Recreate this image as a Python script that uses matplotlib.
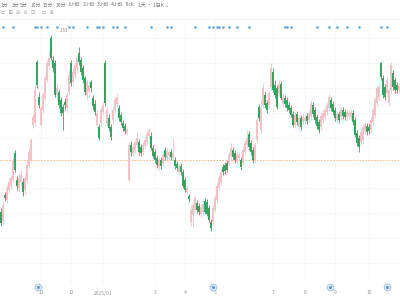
import matplotlib
matplotlib.use("Agg")
import matplotlib.pyplot as plt
import numpy as np

plt.rcParams["font.family"] = ["Noto Sans CJK SC", "DejaVu Sans"]

# daily candles, one per trading day
opens = [
    1.76, 1.66, 1.93, 1.88, 1.98, 2.02, 2.08, 2.35, 2.08, 2.00,
    2.06, 2.06, 1.98, 2.08, 2.22, 2.28, 2.63, 2.65, 3.26, 2.91,
    2.63, 2.78, 2.90, 3.08, 3.22, 3.50, 3.28, 3.25, 2.93, 2.96,
    2.88, 2.81, 2.86, 2.80, 2.96, 3.25, 3.06, 3.13, 3.20, 3.35,
    3.28, 3.20, 3.10, 2.93, 2.96, 3.06, 2.90, 2.84, 2.63, 2.61,
    2.65, 2.76, 3.25, 2.65, 2.70, 2.61, 2.68, 2.78, 2.84, 2.80,
    2.73, 2.65, 2.62, 2.55, 2.08, 2.43, 2.35, 2.38, 2.43, 2.46,
    2.41, 2.36, 2.42, 2.46, 2.52, 2.52, 2.40, 2.36, 2.30, 2.21,
    2.28, 2.25, 2.38, 2.30, 2.32, 2.36, 2.30, 2.28, 2.24, 2.16,
    2.22, 2.16, 2.08, 1.96, 1.92, 1.66, 1.73, 1.78, 1.85, 1.82,
    1.74, 1.76, 1.87, 1.86, 1.80, 1.66, 1.66, 1.78, 1.88, 2.00,
    2.06, 2.21, 2.23, 2.25, 2.25, 2.32, 2.38, 2.35, 2.26, 2.30,
    2.28, 2.25, 2.36, 2.43, 2.54, 2.45, 2.38, 2.28, 2.48, 2.81,
    2.58, 2.83, 2.93, 2.85, 2.83, 3.01, 3.16, 3.03, 3.00, 2.95,
    3.04, 2.84, 2.90, 2.88, 2.83, 2.80, 2.74, 2.63, 2.74, 2.61,
    2.70, 2.66, 2.67, 2.72, 2.68, 2.71, 2.83, 2.78, 2.71, 2.66,
    2.61, 2.68, 2.71, 2.76, 2.80, 2.88, 2.84, 2.78, 2.68, 2.74,
    2.71, 2.78, 2.76, 2.71, 2.72, 2.71, 2.75, 2.68, 2.55, 2.50,
    2.46, 2.48, 2.57, 2.62, 2.61, 2.58, 2.66, 2.73, 2.85, 2.90,
    3.25, 3.10, 3.01, 2.95, 2.85, 2.98, 3.15, 3.08, 3.03, 2.98,
]
closes = [
    1.65, 1.83, 1.90, 2.00, 2.06, 2.10, 2.28, 2.18, 2.02, 2.10,
    2.13, 1.96, 2.10, 2.23, 2.36, 2.48, 2.71, 2.98, 3.03, 2.83,
    2.80, 2.93, 3.10, 3.25, 3.30, 3.30, 3.20, 2.93, 3.00, 2.83,
    2.75, 2.75, 2.83, 2.93, 3.13, 3.05, 3.16, 3.23, 3.30, 3.26,
    3.16, 3.08, 2.96, 3.06, 3.03, 3.00, 2.82, 2.76, 2.75, 2.50,
    2.78, 2.83, 2.85, 2.78, 2.60, 2.51, 2.78, 2.88, 2.91, 2.70,
    2.66, 2.60, 2.57, 2.58, 2.43, 2.36, 2.41, 2.45, 2.50, 2.36,
    2.35, 2.43, 2.48, 2.54, 2.58, 2.40, 2.32, 2.28, 2.23, 2.28,
    2.22, 2.33, 2.31, 2.37, 2.36, 2.31, 2.35, 2.22, 2.20, 2.22,
    2.16, 2.02, 1.98, 2.00, 1.89, 1.78, 1.83, 1.90, 1.78, 1.76,
    1.81, 1.84, 1.76, 1.74, 1.68, 1.60, 1.80, 1.90, 2.02, 2.10,
    2.16, 2.16, 2.17, 2.18, 2.33, 2.40, 2.31, 2.28, 2.34, 2.33,
    2.21, 2.38, 2.45, 2.50, 2.41, 2.36, 2.28, 2.43, 2.68, 2.70,
    2.80, 3.00, 2.83, 2.78, 2.95, 3.20, 2.98, 2.93, 2.81, 3.04,
    2.90, 2.91, 2.84, 2.80, 2.78, 2.73, 2.63, 2.73, 2.66, 2.70,
    2.61, 2.71, 2.70, 2.67, 2.75, 2.85, 2.74, 2.68, 2.62, 2.58,
    2.72, 2.75, 2.78, 2.83, 2.91, 2.80, 2.76, 2.70, 2.74, 2.68,
    2.78, 2.72, 2.71, 2.76, 2.75, 2.76, 2.66, 2.53, 2.45, 2.41,
    2.56, 2.61, 2.63, 2.56, 2.57, 2.68, 2.78, 2.88, 3.00, 3.01,
    3.11, 2.93, 2.91, 3.08, 2.98, 3.23, 3.01, 2.98, 2.98, 3.02,
]
highs = [
    1.80, 1.86, 1.96, 2.03, 2.10, 2.13, 2.31, 2.38, 2.12, 2.14,
    2.18, 2.10, 2.14, 2.28, 2.40, 2.50, 2.74, 3.04, 3.28, 2.96,
    2.83, 2.96, 3.13, 3.28, 3.38, 3.53, 3.32, 3.28, 3.04, 2.98,
    2.91, 2.84, 2.90, 2.96, 3.18, 3.28, 3.20, 3.26, 3.33, 3.41,
    3.31, 3.23, 3.12, 3.08, 3.06, 3.08, 2.93, 2.88, 2.78, 2.64,
    2.81, 2.86, 3.28, 2.81, 2.74, 2.64, 2.81, 2.91, 2.95, 2.83,
    2.76, 2.68, 2.65, 2.60, 2.46, 2.47, 2.44, 2.48, 2.56, 2.49,
    2.44, 2.46, 2.51, 2.57, 2.60, 2.56, 2.43, 2.39, 2.33, 2.31,
    2.31, 2.36, 2.41, 2.40, 2.39, 2.39, 2.50, 2.31, 2.27, 2.25,
    2.25, 2.19, 2.11, 2.03, 1.94, 1.83, 1.86, 1.93, 1.88, 1.85,
    1.84, 1.88, 1.90, 1.89, 1.83, 1.69, 1.83, 1.93, 2.05, 2.13,
    2.19, 2.24, 2.26, 2.28, 2.36, 2.45, 2.41, 2.38, 2.37, 2.36,
    2.31, 2.41, 2.48, 2.58, 2.57, 2.48, 2.41, 2.46, 2.71, 2.84,
    2.88, 3.05, 2.96, 2.88, 2.98, 3.25, 3.20, 3.08, 3.03, 3.08,
    3.07, 2.94, 2.93, 2.91, 2.86, 2.83, 2.77, 2.76, 2.77, 2.73,
    2.73, 2.74, 2.73, 2.75, 2.78, 2.88, 2.86, 2.81, 2.74, 2.69,
    2.75, 2.78, 2.81, 2.86, 2.94, 2.91, 2.87, 2.81, 2.77, 2.77,
    2.81, 2.81, 2.79, 2.79, 2.78, 2.79, 2.78, 2.71, 2.58, 2.53,
    2.59, 2.64, 2.66, 2.65, 2.64, 2.71, 2.81, 2.91, 3.03, 3.04,
    3.26, 3.13, 3.04, 3.11, 3.01, 3.26, 3.18, 3.11, 3.06, 3.05,
]
lows = [
    1.62, 1.64, 1.87, 1.85, 1.95, 1.98, 2.06, 2.16, 1.98, 1.96,
    2.02, 1.92, 1.94, 2.05, 2.20, 2.26, 2.60, 2.62, 3.00, 2.80,
    2.60, 2.75, 2.88, 3.06, 3.18, 3.28, 3.16, 2.91, 2.88, 2.80,
    2.72, 2.58, 2.78, 2.76, 2.93, 3.02, 3.03, 3.10, 3.16, 3.23,
    3.13, 3.05, 2.93, 2.88, 2.90, 2.96, 2.78, 2.73, 2.60, 2.48,
    2.62, 2.73, 2.82, 2.62, 2.57, 2.48, 2.64, 2.75, 2.81, 2.67,
    2.63, 2.57, 2.54, 2.53, 2.06, 2.32, 2.32, 2.35, 2.40, 2.33,
    2.32, 2.33, 2.39, 2.43, 2.49, 2.38, 2.30, 2.25, 2.20, 2.18,
    2.19, 2.22, 2.28, 2.27, 2.29, 2.28, 2.28, 2.19, 2.17, 2.13,
    2.13, 2.00, 1.96, 1.94, 1.86, 1.62, 1.61, 1.75, 1.75, 1.73,
    1.71, 1.73, 1.74, 1.72, 1.66, 1.57, 1.63, 1.76, 1.85, 1.98,
    2.03, 2.13, 2.14, 2.16, 2.22, 2.29, 2.28, 2.25, 2.23, 2.27,
    2.18, 2.22, 2.33, 2.40, 2.38, 2.33, 2.25, 2.25, 2.45, 2.67,
    2.55, 2.80, 2.80, 2.75, 2.80, 2.98, 2.96, 2.90, 2.79, 2.92,
    2.88, 2.81, 2.81, 2.77, 2.75, 2.71, 2.61, 2.60, 2.63, 2.58,
    2.58, 2.63, 2.64, 2.64, 2.65, 2.68, 2.71, 2.65, 2.59, 2.55,
    2.58, 2.65, 2.68, 2.73, 2.77, 2.77, 2.73, 2.67, 2.65, 2.65,
    2.68, 2.69, 2.68, 2.68, 2.69, 2.68, 2.63, 2.51, 2.42, 2.36,
    2.43, 2.45, 2.54, 2.53, 2.54, 2.55, 2.63, 2.70, 2.82, 2.87,
    3.08, 2.90, 2.88, 2.92, 2.82, 2.95, 2.98, 2.95, 2.95, 2.95,
]

month_idx = [20, 35, 51, 77, 92, 107, 136, 152, 167, 184]
month_labels = ["11", "12", "2025/01", "3", "4", "5", "7", "8", "9", "10"]

event_idx = [1, 6, 17, 18, 20, 23, 28, 34, 36, 43, 48, 49, 51, 56, 58, 62,
             75, 83, 85, 97, 104, 106, 108, 109, 111, 114, 118, 124, 142,
             143, 145, 158, 164, 168, 173, 179, 190, 193]
news_idx = [18.5, 106, 164.5, 193]

ref_price = 2.28
max_label = "3.53"

toolbar = ["1分", "3分", "5分", "10分", "15分", "30分", "1小时", "2小时",
           "3小时", "4小时", "Tick", "1天 · 1日K ⌄"]
toolbar_x = [1, 12, 20, 31, 43, 56, 68, 83, 97, 111, 125, 138]

UP = "#f3c2c9"
DOWN = "#34a463"

fig = plt.figure(figsize=(4, 3), dpi=100)
ax = fig.add_axes([0, 17 / 300, 1, 263 / 300])
ax.set_xlim(-0.5, len(opens) - 0.5)
ax.set_ylim(1.05, 3.68)

x = np.arange(len(opens))
o = np.array(opens)
c = np.array(closes)
up = c >= o
colors = np.where(up, UP, DOWN)

ax.vlines(x, lows, highs, colors=colors, linewidth=0.6, zorder=3)
ax.bar(x, np.maximum(np.abs(c - o), 0.008), bottom=np.minimum(o, c),
       width=0.75, color=colors, linewidth=0, zorder=4)

ax.axhline(ref_price, color="#f3b27a", linewidth=0.6, linestyle=(0, (2, 1.5)), zorder=2)

ax.scatter(event_idx, [3.61] * len(event_idx), s=0.8, color="#6aa6dc", zorder=5)
ax.text(31.5, 3.57, max_label, fontsize=3.2, color="#888888", ha="center", va="center")

ax.scatter(news_idx, [1.01] * len(news_idx), s=24, color="#dbe8f6",
           edgecolors="#9cc0e4", linewidths=0.6, clip_on=False, zorder=6)
ax.scatter(news_idx, [1.01] * len(news_idx), s=1.5, color="#6b9bd0",
           clip_on=False, zorder=7)

ax.set_xticks(month_idx)
ax.set_yticks(np.arange(1.25, 3.7, 0.25))
ax.grid(True, color="#f5f5f5", linewidth=0.5)
ax.set_axisbelow(True)
ax.tick_params(length=0, labelleft=False, labelbottom=False)
for s in ax.spines.values():
    s.set_visible(False)

for i, lab in zip(month_idx, month_labels):
    ax.text(i, 0.95, lab, fontsize=3.6, color="#999999", ha="center", va="center",
            clip_on=False)

for tx, lab in zip(toolbar_x, toolbar):
    fig.text(tx / 400, 1 - 5 / 300, lab, fontsize=3.6, color="#777777",
             ha="left", va="center")
fig.text(1 / 400, 1 - 13 / 300, "⊏  ⊞  ⊖  ⊙  ⊡    ▭  ⊛", fontsize=3.6,
         color="#999999", ha="left", va="center", family="DejaVu Sans")
fig.add_artist(plt.Line2D([0, 1], [1 - 18.5 / 300] * 2, color="#f0f0f0", linewidth=0.5))

fig.savefig("out.png", dpi=100, facecolor="white")
